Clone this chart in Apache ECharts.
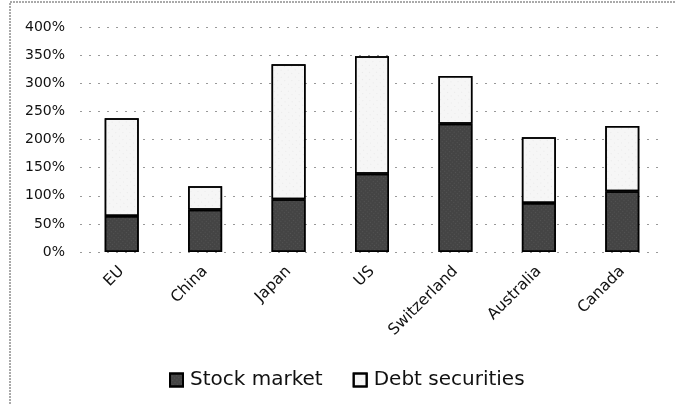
<!DOCTYPE html>
<html>
<head>
<meta charset="utf-8">
<script src="https://cdn.jsdelivr.net/npm/echarts@6/dist/echarts.min.js"></script>
<style>
  html, body { margin: 0; padding: 0; background: #fff; }
  #chart { width: 675px; height: 405px; }
</style>
</head>
<body>
<div id="chart"></div>
<script>
const categories = ['EU', 'China', 'Japan', 'US', 'Switzerland', 'Australia', 'Canada'];
const stockMarket = [64, 75, 94, 139, 228, 87, 108];
const debtSecurities = [174, 42, 240, 209, 85, 117, 116];
const yTicks = [0, 50, 100, 150, 200, 250, 300, 350, 400];

const chart = echarts.init(document.getElementById('chart'));

chart.setOption({
  animation: false,
  textStyle: { fontFamily: 'DejaVu Sans' },
  graphic: [
    {
      type: 'polyline',
      shape: { points: [[10, 404], [10, 2], [675, 2]] },
      style: { stroke: '#555', lineWidth: 1, lineDash: [2, 1], fill: null }
    }
  ],
  grid: { left: 80, right: 11, top: 27, bottom: 153 },
  legend: {
    top: 365,
    left: 164,
    itemWidth: 13,
    itemHeight: 13,
    itemGap: 30,
    textStyle: { fontSize: 20, color: '#111', fontFamily: 'DejaVu Sans', padding: [0, 0, 0, 2] },
    data: [
      { name: 'Stock market', icon: 'rect' },
      { name: 'Debt securities', icon: 'rect' }
    ]
  },
  xAxis: {
    type: 'category',
    data: categories,
    axisLine: { show: false },
    axisTick: { show: false },
    axisLabel: { rotate: 45, fontSize: 15.5, color: '#111', margin: 17 }
  },
  yAxis: {
    type: 'value',
    min: yTicks[0],
    max: yTicks[yTicks.length - 1],
    interval: 50,
    axisLine: { show: false },
    axisTick: { show: false },
    axisLabel: { formatter: '{value}%', fontSize: 14, color: '#111', margin: 15 },
    splitLine: { lineStyle: { color: '#999', type: [2, 7], width: 1 } }
  },
  series: [
    {
      name: 'Stock market',
      type: 'bar',
      stack: 'total',
      barWidth: 34,
      data: stockMarket,
      itemStyle: {
        color: '#444',
        borderColor: '#000',
        borderWidth: 1.5,
        decal: { symbol: 'rect', symbolSize: 0.5, color: 'rgba(255,255,255,0.35)', dashArrayX: [1, 2], dashArrayY: [1, 2], rotation: 0.7 }
      }
    },
    {
      name: 'Debt securities',
      type: 'bar',
      stack: 'total',
      barWidth: 34,
      data: debtSecurities,
      itemStyle: {
        color: '#f6f6f6',
        borderColor: '#000',
        borderWidth: 1.5,
        decal: { symbol: 'rect', symbolSize: 0.6, color: 'rgba(120,120,120,0.35)', dashArrayX: [1, 4], dashArrayY: [1, 4], rotation: -0.8 }
      }
    }
  ]
});
</script>
</body>
</html>
